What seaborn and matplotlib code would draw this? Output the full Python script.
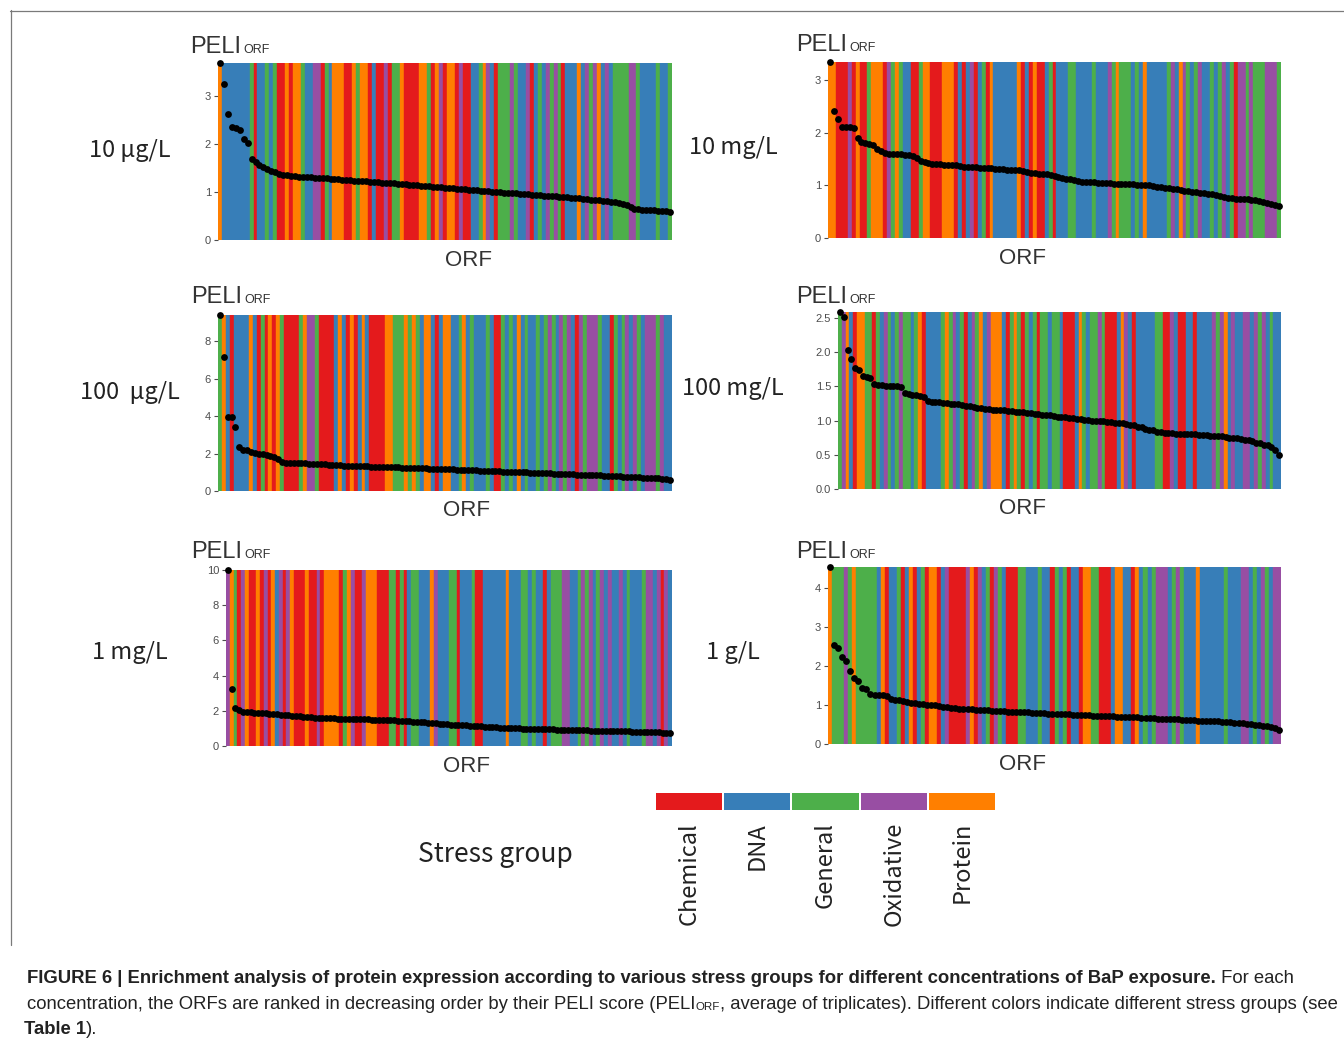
import numpy as np
import pandas as pd
import matplotlib
matplotlib.use("Agg")
import matplotlib.pyplot as plt
from matplotlib.lines import Line2D
import seaborn as sns

W, H = 1344, 1049

# ---------------- data ----------------
GROUPS = ["Chemical", "DNA", "General", "Oxidative", "Protein"]
CODE = {"C": "Chemical", "D": "DNA", "G": "General", "O": "Oxidative", "P": "Protein"}

conc_labels = ["10 μg/L", "10 mg/L", "100  μg/L", "100 mg/L", "1 mg/L", "1 g/L"]

# stress group of each ranked ORF, run-length coded (letter = group, number = run)
groups_10ug = ("P1 D7 G1 C1 D2 G1 D1 G1 C2 P1 C1 P2 G1 D2 O2 C1 G1 D1 P3 C2 P1 G1 P2 C1 D1 C2 O1 C1 "
               "G2 P1 C4 P2 G1 C1 P1 O1 C1 P2 C1 "
               "O1 C2 D2 G1 P1 O1 D1 C1 G3 O1 G1 D2 O1 C1 D1 G1 D1 O1 G1 O1 G1 C1 D3 P1 D1 O1 G1 O1 "
               "P1 D1 O1 D1 G4 O2 G1 D4 G1 D2 G1")
groups_10mg = ("P2 C3 O1 C1 P1 C2 G1 P3 C1 O1 G1 P1 G1 D2 C2 G1 P2 C3 P3 C1 D1 C1 D1 O1 C1 D1 G1 C1 "
               "P1 D6 P1 C1 D1 C1 P1 C2 D1 G1 C1 D1 "
               "D2 G2 D4 G1 D3 O1 G1 P1 G3 D1 G1 D1 P1 D5 G1 O1 D1 P1 O1 G1 D1 G1 O1 D2 G1 D1 G1 O1 "
               "D1 G1 C1 O2 G1 O1 G3 O3 G1")
groups_100ug = ("G1 P1 D1 C1 D4 P1 D1 C1 G1 C1 P1 C1 P1 G1 C4 G1 P1 O2 G1 C4 D1 P1 D1 C1 P1 C1 D1 P1 "
                "D1 C4 P2 G3 P1 G1 P1 G1 D1 P2 D1 C1 D1 P2 "
                "D2 G1 P1 D1 G1 D3 G1 D1 C2 G1 D1 G1 D1 P1 D1 G1 D2 G1 D1 G1 O1 G1 D1 O1 G1 O1 D1 C1 "
                "O1 G1 O3 G1 D2 C1 G1 D1 G1 O1 D1 O1 G1 D1 O3 G1 O1 D2")
groups_100mg = ("G1 O1 P1 D1 C1 P2 G2 C1 G1 D1 O1 G1 D1 G1 O1 G2 D1 G1 P1 C1 D4 G1 P1 G1 O1 D1 G1 C1 "
                "D1 O1 G1 P1 D1 O1 P3 D1 C1 G1 P1 G1 C1 G1 D1 G1 C1 G2 "
                "D1 G2 D1 C3 D1 P1 G1 D1 G2 O1 G1 C3 D1 P1 O1 D1 C1 D5 G2 C2 O1 D1 C2 D2 C1 D4 O1 G1 "
                "O1 P1 D1 O1 D2 O2 D1 O1 G1 O1 D1 G1 D2")
groups_1mg = ("O1 P1 G1 C1 O1 P1 C2 P1 C1 O1 C1 P1 D1 O1 C1 O1 P1 C3 P1 C2 O1 C1 P4 C1 G1 P1 O1 C2 "
              "O1 P3 C3 G2 C1 G1 C1 D1 G2 D3 P1 O1 D2 "
              "D1 G2 C1 D3 G1 C2 D6 P1 D3 G2 D1 G1 D2 C1 D1 G3 O2 D2 G1 O1 G1 O1 D1 G1 O1 D1 O1 D2 "
              "O1 D1 G1 D3 G1 O2 D1 O1 C1 O1 D1")
groups_1g = ("P1 G3 O1 G1 P1 G5 D1 P1 C1 D2 G1 C1 D1 P1 C1 D1 G1 C1 P2 C1 D1 O1 C4 O1 P1 C1 O1 D1 "
             "G1 C1 O1 G1 D1 C3 G2 D3 G1 D2 "
             "C1 G1 D1 G1 C1 D2 C1 P2 G2 C3 D1 P2 D2 C1 P1 D1 G1 D1 G1 O3 D1 G1 O1 G1 D3 P1 D6 G1 "
             "D3 O2 D1 G1 D1 O1 G1 D1 O2")

# PELI_ORF of each ORF, in decreasing rank order
peli_10ug = [3.69, 3.25, 2.62, 2.35, 2.33, 2.30, 2.10, 2.03,
             1.68, 1.62, 1.57, 1.52, 1.48, 1.44, 1.41, 1.38, 1.36, 1.35, 1.34, 1.33, 1.32, 1.32, 1.31, 1.31, 1.30,
             1.30, 1.29, 1.29, 1.28, 1.27, 1.27, 1.26, 1.25, 1.25, 1.24, 1.23, 1.23, 1.22, 1.21, 1.21, 1.20, 1.19,
             1.19, 1.18, 1.18, 1.17, 1.16, 1.16, 1.15, 1.14, 1.14, 1.13, 1.12, 1.12, 1.11, 1.10, 1.10, 1.09,
             1.08, 1.08, 1.07, 1.06, 1.06, 1.05, 1.04, 1.04, 1.03, 1.02, 1.02, 1.01, 1.00, 1.00, 0.99, 0.98,
             0.98, 0.97, 0.96, 0.96, 0.95, 0.94, 0.94, 0.93, 0.92, 0.92, 0.91, 0.91, 0.90,
             0.89, 0.89, 0.88, 0.87, 0.87, 0.86, 0.85, 0.84, 0.84, 0.83, 0.82, 0.81, 0.80, 0.79, 0.78,
             0.76, 0.72, 0.68, 0.65, 0.64,
             0.63, 0.63, 0.62, 0.62, 0.61, 0.61, 0.60, 0.59]
peli_10mg = [3.35, 2.41, 2.26, 2.12, 2.11, 2.11, 2.10, 1.91, 1.82, 1.80, 1.79, 1.77, 1.70, 1.66, 1.62,
             1.60, 1.60, 1.59, 1.59, 1.58, 1.58, 1.57, 1.52, 1.47, 1.45, 1.43, 1.41,
             1.40, 1.40, 1.39, 1.39, 1.38, 1.38, 1.37, 1.36, 1.36, 1.35, 1.35, 1.34, 1.34, 1.33, 1.33,
             1.32, 1.32, 1.31, 1.30, 1.30, 1.29, 1.29, 1.28,
             1.26, 1.24, 1.23, 1.22, 1.21, 1.21, 1.20,
             1.18, 1.17, 1.15, 1.13, 1.12, 1.10, 1.08, 1.07,
             1.07, 1.06, 1.06, 1.05, 1.05, 1.04, 1.04, 1.03, 1.03,
             1.03, 1.02, 1.02, 1.02, 1.01, 1.01, 1.00, 1.00,
             0.99, 0.98, 0.97, 0.96, 0.95, 0.94, 0.93, 0.92, 0.90,
             0.89, 0.88, 0.87, 0.86, 0.85, 0.84, 0.83, 0.82,
             0.80, 0.78, 0.76,
             0.76, 0.75, 0.75, 0.74, 0.74, 0.73, 0.73,
             0.71, 0.69, 0.67, 0.65, 0.63, 0.61]
peli_100ug = [9.39, 7.15, 3.97, 3.95, 3.41, 2.35, 2.20, 2.18,
              2.10, 2.05, 2.00, 1.97, 1.93, 1.88, 1.84, 1.70, 1.55, 1.52, 1.50, 1.50,
              1.49, 1.48, 1.47, 1.46, 1.45, 1.44, 1.43, 1.42, 1.41, 1.40, 1.38, 1.37, 1.35, 1.33,
              1.33, 1.32, 1.32, 1.31, 1.31, 1.30, 1.29, 1.29, 1.28, 1.28, 1.27, 1.26, 1.26, 1.25,
              1.24, 1.24, 1.23, 1.22, 1.22, 1.21, 1.20, 1.20, 1.19, 1.18, 1.17,
              1.16, 1.15, 1.14, 1.14, 1.13, 1.12, 1.11, 1.10, 1.09, 1.08, 1.08, 1.07, 1.06, 1.05,
              1.04, 1.03, 1.02, 1.02, 1.01, 1.00, 0.99, 0.98, 0.97, 0.96,
              0.95, 0.94, 0.94, 0.93, 0.92, 0.91, 0.90, 0.90, 0.89, 0.88, 0.87, 0.86, 0.86, 0.85,
              0.84, 0.83, 0.82, 0.81, 0.80, 0.79, 0.78, 0.77, 0.76, 0.75, 0.74, 0.73, 0.72, 0.71,
              0.70, 0.68, 0.67, 0.65, 0.63, 0.60]
peli_100mg = [2.59, 2.51, 2.03, 1.90, 1.77, 1.74, 1.66, 1.64, 1.62,
              1.53, 1.52, 1.52, 1.51, 1.51, 1.50, 1.50, 1.49,
              1.41, 1.39, 1.38, 1.37, 1.36, 1.35,
              1.29, 1.28, 1.28, 1.27, 1.26,
              1.26, 1.25, 1.25, 1.24, 1.23, 1.22, 1.21, 1.20, 1.19, 1.18, 1.17, 1.17, 1.16,
              1.16, 1.15, 1.15, 1.14, 1.14, 1.13, 1.13, 1.12, 1.11, 1.11, 1.10, 1.10, 1.09, 1.08, 1.08, 1.07,
              1.06, 1.06, 1.05, 1.04, 1.04, 1.03, 1.02, 1.01, 1.01, 1.00, 1.00, 0.99, 0.99, 0.98, 0.98,
              0.97, 0.97, 0.96, 0.95, 0.94,
              0.93, 0.91, 0.90, 0.88, 0.87, 0.86, 0.84, 0.83, 0.82,
              0.82, 0.82, 0.81, 0.81, 0.81, 0.80, 0.80, 0.80, 0.79, 0.79, 0.79, 0.78, 0.78, 0.78,
              0.77, 0.76, 0.75, 0.75, 0.74, 0.73, 0.72, 0.71,
              0.70, 0.68, 0.67, 0.65, 0.64, 0.62, 0.57, 0.50]
peli_1mg = [10.0, 3.24, 2.18, 2.02, 1.95, 1.93,
            1.92, 1.90, 1.89, 1.87, 1.85, 1.83, 1.81, 1.79, 1.77,
            1.76, 1.74, 1.72, 1.71, 1.69, 1.67, 1.65, 1.63, 1.61,
            1.60, 1.59, 1.58, 1.58, 1.57, 1.56, 1.56, 1.55, 1.54, 1.54, 1.53, 1.52, 1.52, 1.51, 1.50,
            1.50, 1.49, 1.48,
            1.47, 1.46, 1.45, 1.43, 1.42, 1.41, 1.40, 1.38, 1.37, 1.35, 1.34, 1.32, 1.30, 1.29, 1.27, 1.25,
            1.24, 1.22, 1.21, 1.20, 1.18, 1.17, 1.16, 1.14, 1.13, 1.12, 1.10, 1.09, 1.08, 1.06, 1.05,
            1.04, 1.02,
            1.01, 1.01, 1.00, 0.99, 0.99, 0.98, 0.97, 0.97, 0.96, 0.95, 0.95, 0.94, 0.93, 0.93, 0.92,
            0.92, 0.91,
            0.90, 0.90, 0.89, 0.89, 0.88, 0.88, 0.87, 0.87, 0.86, 0.86, 0.85, 0.85, 0.84, 0.83, 0.83,
            0.82, 0.81, 0.81, 0.80, 0.79, 0.79, 0.78, 0.77, 0.76, 0.75, 0.74]
peli_1g = [4.54, 2.53, 2.45, 2.24, 2.14, 1.88, 1.70, 1.62, 1.43, 1.41,
           1.27, 1.26, 1.25, 1.25, 1.24, 1.15, 1.14, 1.12, 1.10, 1.08,
           1.05, 1.04, 1.03, 1.02, 1.01, 1.00, 0.99, 0.98,
           0.96, 0.95, 0.93, 0.92, 0.91, 0.90, 0.89, 0.89, 0.88,
           0.87, 0.86, 0.86, 0.85, 0.85, 0.84, 0.84, 0.83, 0.83, 0.82, 0.82, 0.81, 0.81, 0.80, 0.80,
           0.79, 0.79, 0.78, 0.78, 0.77,
           0.77, 0.76, 0.76, 0.75, 0.75, 0.74, 0.74, 0.74, 0.73, 0.73, 0.72, 0.72, 0.71, 0.71, 0.70,
           0.70, 0.69, 0.69, 0.68, 0.68, 0.67, 0.67, 0.66, 0.66, 0.65, 0.65, 0.64, 0.64, 0.63, 0.63, 0.62,
           0.62, 0.61, 0.61, 0.60, 0.60, 0.59, 0.59, 0.58, 0.58, 0.57, 0.56, 0.56, 0.55,
           0.54, 0.53, 0.52, 0.51, 0.50, 0.49, 0.47, 0.45, 0.43, 0.40, 0.37]

yticks_list = [[0, 1, 2, 3], [0, 1, 2, 3], [0, 2, 4, 6, 8],
               [0.0, 0.5, 1.0, 1.5, 2.0, 2.5], [0, 2, 4, 6, 8, 10], [0, 1, 2, 3, 4]]

# ---------------- style ----------------
sns.set_theme(style="white")
plt.rcParams["font.family"] = ["Liberation Sans", "DejaVu Sans"]
palette = dict(zip(GROUPS, sns.color_palette("Set1", 5)))
TXT = "#333333"
TICK = "#4d4d4d"
LBL_FONT = ["Noto Sans CJK SC", "DejaVu Sans"]


def expand(runs):
    out = []
    for tok in runs.split():
        out += [CODE[tok[0]]] * int(tok[1:])
    return out


def fx(x):
    return x / W


def fy(y):
    return 1 - y / H


fig = plt.figure(figsize=(W / 100, H / 100), dpi=100)
fig.patch.set_facecolor("white")

# frame around the figure body
fig.add_artist(Line2D([fx(10), fx(1344)], [fy(10.5), fy(10.5)], color="#7a7a7a", lw=0.9))
fig.add_artist(Line2D([fx(10.5), fx(10.5)], [fy(10), fy(945)], color="#7a7a7a", lw=0.9))

# axes boxes in pixels: x0, y0(top), x1, y1(bottom)
boxes = [(218, 63, 672, 240), (828, 62, 1281, 238),
         (218, 315, 672, 491), (838, 312, 1281, 489),
         (226, 570, 672, 746), (828, 567, 1281, 744)]
peli_x = [190, 796, 191, 796, 191, 796]
peli_y = [53, 51, 303, 303, 558, 558]
orf_x = [468, 1023, 467, 1023, 467, 1023]
conc_xy = [(130, 150), (733, 147), (130, 392), (733, 389), (130, 653), (733, 653)]

data = [(groups_10ug, peli_10ug), (groups_10mg, peli_10mg), (groups_100ug, peli_100ug),
        (groups_100mg, peli_100mg), (groups_1mg, peli_1mg), (groups_1g, peli_1g)]

for k, ((runs, vals), box, yt) in enumerate(zip(data, boxes, yticks_list)):
    grp = expand(runs)
    assert len(grp) == len(vals), (k, len(grp), len(vals))
    df = pd.DataFrame({"rank": np.arange(len(vals)), "peli": vals, "group": grp})
    x0, y0, x1, y1 = box
    ax = fig.add_axes([fx(x0), fy(y1), (x1 - x0) / W, (y1 - y0) / H])
    ytop = max(vals)
    cols = [palette[g] for g in df["group"]]
    ax.bar(df["rank"], ytop, width=1.0, color=cols, edgecolor=cols, linewidth=0.3, zorder=1)
    sns.scatterplot(data=df, x="rank", y="peli", color="black", s=24, linewidth=0,
                    ax=ax, clip_on=False, zorder=3, legend=False)
    ax.set_xlim(-0.5, len(vals) - 0.5)
    ax.set_ylim(0, ytop)
    ax.set_xticks([])
    ax.set_yticks(yt)
    if k == 3:
        ax.set_yticklabels([f"{v:.1f}" for v in yt])
    else:
        ax.set_yticklabels([f"{v:g}" for v in yt])
    ax.tick_params(axis="y", left=True, length=3, width=0.8, color=TICK,
                   labelsize=8, labelcolor=TICK, pad=2)
    for s in ax.spines.values():
        s.set_visible(False)
    ax.set_xlabel("")
    ax.set_ylabel("")

    # axis captions
    fig.text(fx(orf_x[k]), fy(y1 + 20), "ORF", ha="center", va="center",
             fontsize=16, color=TXT)
    fig.text(fx(peli_x[k]), fy(peli_y[k]), "PELI", ha="left", va="baseline",
             fontsize=17, color=TXT)
    fig.text(fx(peli_x[k] + 53), fy(peli_y[k]), "ORF", ha="left", va="baseline",
             fontsize=9, color=TXT)
    cx, cy = conc_xy[k]
    fig.text(fx(cx), fy(cy), conc_labels[k], ha="center", va="center",
             fontsize=17, color="#222222", family=LBL_FONT)

# ---------------- legend ----------------
lax = fig.add_axes([fx(655), fy(810), (996 - 655) / W, 17 / H])
lax.bar(np.arange(5), 1, width=0.97, color=[palette[g] for g in GROUPS], linewidth=0)
lax.set_xlim(-0.5, 4.5)
lax.set_ylim(0, 1)
lax.axis("off")
for i, g in enumerate(GROUPS):
    xc = 655 + (i + 0.5) * (996 - 655) / 5
    fig.text(fx(xc), fy(822), g, rotation=90, ha="center", va="top",
             fontsize=17, color="#222222", family=LBL_FONT)
fig.text(fx(495), fy(855), "Stress group", ha="center", va="center",
         fontsize=19, color="#222222", family=LBL_FONT)

# ---------------- caption ----------------
renderer = fig.canvas.get_renderer()


def text_line(x, y, pieces, size=13.35):
    for s, kw in pieces:
        opts = dict(fontsize=size, color="#222222", va="baseline", ha="left")
        dy = 0
        if kw.get("sub"):
            opts["fontsize"] = size * 0.62
            dy = 1.5
        if kw.get("bold"):
            opts["fontweight"] = "bold"
        t = fig.text(fx(x), fy(y + dy), s, **opts)
        x += t.get_window_extent(renderer).width


text_line(27, 983, [("FIGURE 6 | Enrichment analysis of protein expression according to various "
                     "stress groups for different concentrations of BaP exposure.", {"bold": True}),
                    (" For each", {})])
text_line(27, 1009, [("concentration, the ORFs are ranked in decreasing order by their PELI score (PELI", {}),
                     ("ORF", {"sub": True}),
                     (", average of triplicates). Different colors indicate different stress groups (see", {})])
text_line(24, 1034, [("Table 1", {"bold": True}), (").", {})])

fig.savefig("out.png", dpi=100, facecolor="white")
